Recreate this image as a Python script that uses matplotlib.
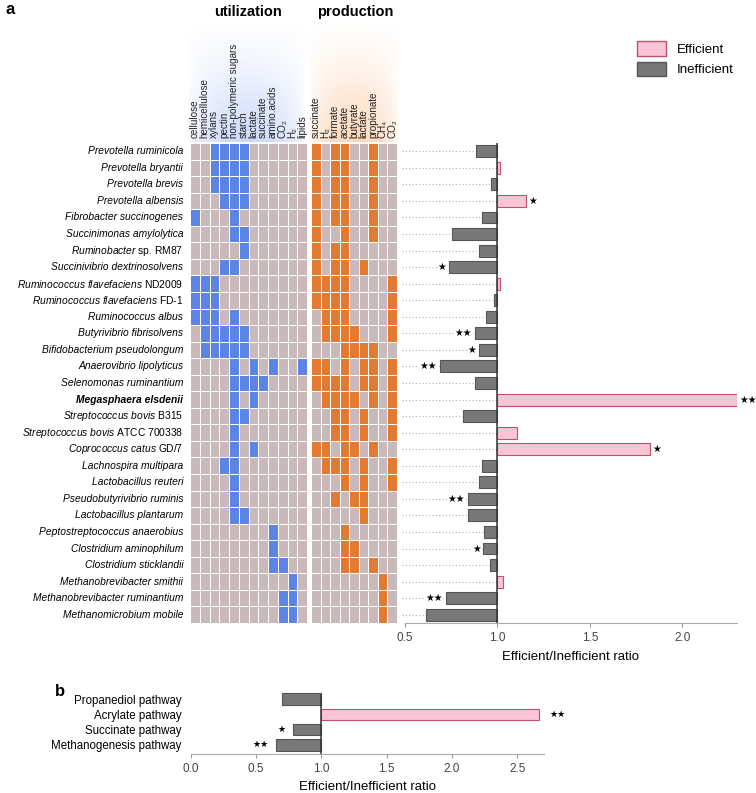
import numpy as np
import matplotlib
matplotlib.use("Agg")
import matplotlib.pyplot as plt
from matplotlib.colors import ListedColormap
from matplotlib.patches import Patch

plt.rcParams['font.family'] = ['Liberation Sans', 'DejaVu Sans']
plt.rcParams['mathtext.fontset'] = 'custom'
plt.rcParams['mathtext.rm'] = 'Liberation Sans'
plt.rcParams['mathtext.it'] = 'Liberation Sans:italic'

# ---- data ----
species = ['Prevotella ruminicola', 'Prevotella bryantii', 'Prevotella brevis',
           'Prevotella albensis', 'Fibrobacter succinogenes', 'Succinimonas amylolytica',
           'Ruminobacter', 'Succinivibrio dextrinosolvens', 'Ruminococcus flavefaciens',
           'Ruminococcus flavefaciens', 'Ruminococcus albus', 'Butyrivibrio fibrisolvens',
           'Bifidobacterium pseudolongum', 'Anaerovibrio lipolyticus', 'Selenomonas ruminantium',
           'Megasphaera elsdenii', 'Streptococcus bovis', 'Streptococcus bovis',
           'Coprococcus catus', 'Lachnospira multipara', 'Lactobacillus reuteri',
           'Pseudobutyrivibrio ruminis', 'Lactobacillus plantarum', 'Peptostreptococcus anaerobius',
           'Clostridium aminophilum', 'Clostridium sticklandii', 'Methanobrevibacter smithii',
           'Methanobrevibacter ruminantium', 'Methanomicrobium mobile']
strains = ['', '', '', '', '', '', 'sp. RM87', '', 'ND2009', 'FD-1', '', '', '', '', '',
           '', 'B315', 'ATCC 700338', 'GD/7', '', '', '', '', '', '', '', '', '', '']
highlight = 'Megasphaera elsdenii'

util_cols = ['cellulose', 'hemicellulose', 'xylans', 'pectin', 'non-polymeric sugars',
             'starch', 'lactate', 'succinate', 'amino.acids', 'CO\u2082', 'H\u2082', 'lipids']
prod_cols = ['succinate', 'H\u2082', 'formate', 'acetate', 'butyrate', 'lactate',
             'propionate', 'CH\u2084', 'CO\u2082']

utilization = ['001111000000', '001111000000', '001111000000', '000111000000',
               '100010000000', '000011000000', '000001000000', '000110000000',
               '111000000000', '111000000000', '111010000000', '011111000000',
               '011111000000', '000010101001', '000011110000', '000010100000',
               '000011000000', '000010000000', '000010100000', '000110000000',
               '000010000000', '000010000000', '000011000000', '000000001000',
               '000000001000', '000000001100', '000000000010', '000000000110',
               '000000000110']
production = ['101100100', '101100100', '101100100', '101100100', '101100100',
              '100100100', '101100000', '101101000', '111100001', '111100001',
              '011100001', '011110001', '000111100', '110101101', '111101101',
              '011110101', '001101001', '001101001', '110110100', '011101001',
              '000101001', '001011000', '000001000', '000100000', '000110000',
              '000110100', '000000010', '000000010', '000000010']

ratio = [0.886, 1.013, 0.966, 1.152, 0.919, 0.756, 0.900, 0.738, 1.016, 0.980,
         0.940, 0.879, 0.900, 0.688, 0.880, 2.294, 0.814, 1.103, 1.825, 0.917,
         0.900, 0.838, 0.838, 0.928, 0.924, 0.962, 1.031, 0.720, 0.615]
ratio_sig = ['', '', '', '*', '', '', '', '*', '', '', '', '**', '*', '**', '',
             '**', '', '', '*', '', '', '**', '', '', '*', '', '', '**', '']

pathways = ['Propanediol pathway', 'Acrylate pathway', 'Succinate pathway',
            'Methanogenesis pathway']
path_ratio = [0.70, 2.67, 0.78, 0.65]
path_sig = ['', '**', '*', '**']

# ---- styling ----
W, H = 756, 793
CELL_GRAY = '#c9b9ba'
BLUE = '#5b84e4'
ORANGE = '#e27a32'
PINK = '#f9c5d6'
PINK_EDGE = '#c2506c'
BAR_GRAY = '#787878'
BAR_GRAY_EDGE = '#555555'


def rect(x0, y0, x1, y1):
    return [x0 / W, 1 - y1 / H, (x1 - x0) / W, (y1 - y0) / H]


def to_matrix(rows):
    return np.array([[int(c) for c in r] for r in rows])


fig = plt.figure(figsize=(W / 100, H / 100), dpi=100)

# background gradients behind the column headers
bg = fig.add_axes([0, 0, 1, 1], zorder=-5)
bg.set_xlim(0, W)
bg.set_ylim(H, 0)
bg.axis('off')
v = np.linspace(0, 1, 100)[:, None] ** 1.3
h = np.sin(np.linspace(0, np.pi, 100))[None, :] ** 0.6
for col, x0, x1, amax in [((0.55, 0.66, 0.95), 187, 306, 0.45),
                          ((0.98, 0.62, 0.33), 308, 400, 0.42)]:
    img = np.zeros((100, 100, 4))
    img[..., :3] = col
    img[..., 3] = amax * v * h
    bg.imshow(img, extent=(x0, x1, 142, 18), aspect='auto', interpolation='bilinear')

n = len(species)

# heatmaps
U = to_matrix(utilization)
P = to_matrix(production)
for mat, cols, box, col in [(U, util_cols, (190, 143, 307, 623), BLUE),
                            (P, prod_cols, (311, 143, 397, 623), ORANGE)]:
    ax = fig.add_axes(rect(*box))
    ax.pcolormesh(mat, cmap=ListedColormap([CELL_GRAY, col]), vmin=0, vmax=1,
                  edgecolors='white', linewidth=0.6)
    ax.set_xlim(0, mat.shape[1])
    ax.set_ylim(n, 0)
    ax.axis('off')
    for j, lab in enumerate(cols):
        ax.text(j + 0.5, -0.3, lab, rotation=90, ha='center', va='bottom',
                fontsize=7.1, color='#222222')
    if mat is U:
        for i, (sp, st) in enumerate(zip(species, strains)):
            if sp == highlight:
                ax.text(-0.7, i + 0.5, sp, ha='right', va='center', fontsize=7.4,
                        style='italic', weight='bold')
            elif st:
                ax.text(-0.7, i + 0.5, r'$\mathit{' + sp.replace(' ', r'\ ') + '}$ ' + st,
                        ha='right', va='center', fontsize=7.4)
            else:
                ax.text(-0.7, i + 0.5, sp, ha='right', va='center', fontsize=7.4,
                        style='italic')

fig.text(248 / W, 1 - 12 / H, 'utilization', ha='center', va='center',
         fontsize=10.5, weight='bold')
fig.text(355 / W, 1 - 12 / H, 'production', ha='center', va='center',
         fontsize=10.5, weight='bold')
fig.text(6 / W, 1 - 9 / H, 'a', ha='left', va='center', fontsize=12, weight='bold')
fig.text(55 / W, 1 - 691 / H, 'b', ha='left', va='center', fontsize=12, weight='bold')

# ratio bars, panel a
ax = fig.add_axes(rect(405, 143, 737, 623))
y = np.arange(n)
r = np.array(ratio)
ax.barh(y, r - 1, left=1, height=0.72,
        color=[PINK if x > 1 else BAR_GRAY for x in r],
        edgecolor=[PINK_EDGE if x > 1 else BAR_GRAY_EDGE for x in r], linewidth=0.8)
for i, (x, s) in enumerate(zip(r, ratio_sig)):
    ax.plot([0.484, min(x, 1)], [i, i], ls=(0, (1, 2)), color='#b0b0b0', lw=0.8,
            clip_on=False, zorder=0)
    if s:
        star = '\u2605' * len(s)
        if x > 1:
            ax.annotate(star, (x, i), xytext=(2, 0), textcoords='offset points',
                        ha='left', va='center', fontsize=7, family='DejaVu Sans')
        else:
            ax.annotate(star, (x, i), xytext=(-2, 0), textcoords='offset points',
                        ha='right', va='center', fontsize=7, family='DejaVu Sans',
                        bbox=dict(facecolor='white', edgecolor='none', pad=0.3))
ax.axvline(1, color='#333333', lw=1.1)
ax.set_xlim(0.5, 2.295)
ax.set_ylim(n - 0.5, -0.5)
ax.set_yticks([])
ax.set_xticks([0.5, 1.0, 1.5, 2.0])
ax.set_xticklabels(['0.5', '1.0', '1.5', '2.0'])
ax.tick_params(axis='x', length=3, color='#999999', labelsize=8.5, labelcolor='#444444')
for side in ['left', 'right', 'top']:
    ax.spines[side].set_visible(False)
ax.spines['bottom'].set_color('#aaaaaa')
ax.set_facecolor('none')
ax.set_xlabel('Efficient/Inefficient ratio', fontsize=9.5, labelpad=5)

fig.legend(handles=[Patch(facecolor=PINK, edgecolor=PINK_EDGE, label='Efficient'),
                    Patch(facecolor=BAR_GRAY, edgecolor=BAR_GRAY_EDGE, label='Inefficient')],
           loc='upper left', bbox_to_anchor=(632 / W, 1 - 36 / H), frameon=False,
           fontsize=9.5, handlelength=2.2, handleheight=1.3, labelspacing=0.45,
           handletextpad=0.8, borderaxespad=0)

# pathway bars, panel b
axb = fig.add_axes(rect(191, 690, 544, 754))
yb = np.arange(len(pathways))
pr = np.array(path_ratio)
axb.barh(yb, pr - 1, left=1, height=0.76,
         color=[PINK if x > 1 else BAR_GRAY for x in pr],
         edgecolor=[PINK_EDGE if x > 1 else BAR_GRAY_EDGE for x in pr], linewidth=0.8)
for i, (x, s) in enumerate(zip(pr, path_sig)):
    if s:
        star = '\u2605' * len(s)
        if x > 1:
            axb.annotate(star, (x, i), xytext=(7, 0), textcoords='offset points',
                         ha='left', va='center', fontsize=6.5, family='DejaVu Sans')
        else:
            axb.annotate(star, (x, i), xytext=(-5, 0), textcoords='offset points',
                         ha='right', va='center', fontsize=6.5, family='DejaVu Sans')
axb.axvline(1, color='#333333', lw=1.1, ymax=0.92)
axb.set_xlim(0, 2.705)
axb.set_ylim(len(pathways) - 0.4, -0.6)
axb.set_yticks(yb)
axb.set_yticklabels(pathways, fontsize=8.3)
axb.tick_params(axis='y', length=0, pad=7)
axb.set_xticks([0, 0.5, 1.0, 1.5, 2.0, 2.5])
axb.set_xticklabels(['0.0', '0.5', '1.0', '1.5', '2.0', '2.5'])
axb.tick_params(axis='x', length=3, color='#999999', labelsize=8.5, labelcolor='#444444')
for side in ['left', 'right', 'top']:
    axb.spines[side].set_visible(False)
axb.spines['bottom'].set_color('#aaaaaa')
axb.set_facecolor('none')
axb.set_xlabel('Efficient/Inefficient ratio', fontsize=9.5, labelpad=4)

fig.savefig('out.png', dpi=100)
